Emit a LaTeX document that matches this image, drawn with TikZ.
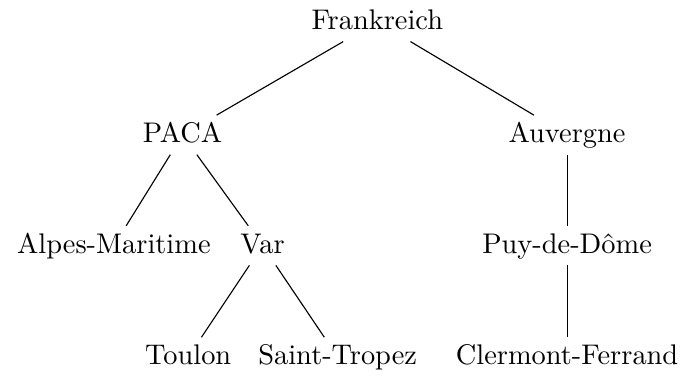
\documentclass[tikz,border=0pt]{standalone}
\usepackage{tikz}
\usetikzlibrary{positioning}
\begin{document}
\begin{tikzpicture}[
    place/.style={inner sep=3pt, text height=1.5ex, text depth=.25ex},
    link/.style={draw=black, line width=0.4pt}
]
\useasboundingbox (0,0) rectangle (8.43,-4.65);

% Top: country
\node[place] (frankreich) at (4.67,-0.27) {Frankreich};

% Regions
\node[place] (paca) at (2.26,-1.67) {PACA};
\node[place] (auvergne) at (7.02,-1.67) {Auvergne};

% Departements
\node[place] (alpes) at (1.41,-3.04) {Alpes-Maritime};
\node[place] (var) at (3.25,-3.04) {Var};
\node[place] (puy) at (7.02,-3.04) {Puy-de-D\^ome};

% Cities
\node[place] (toulon) at (2.33,-4.42) {Toulon};
\node[place] (tropez) at (4.18,-4.42) {Saint-Tropez};
\node[place] (clermont) at (7.02,-4.42) {Clermont-Ferrand};

% Connectors
\draw[link] (frankreich) -- (paca);
\draw[link] (frankreich) -- (auvergne);
\draw[link] (paca) -- (alpes);
\draw[link] (paca) -- (var);
\draw[link] (var) -- (toulon);
\draw[link] (var) -- (tropez);
\draw[link] (auvergne) -- (puy);
\draw[link] (puy) -- (clermont);

\end{tikzpicture}
\end{document}
